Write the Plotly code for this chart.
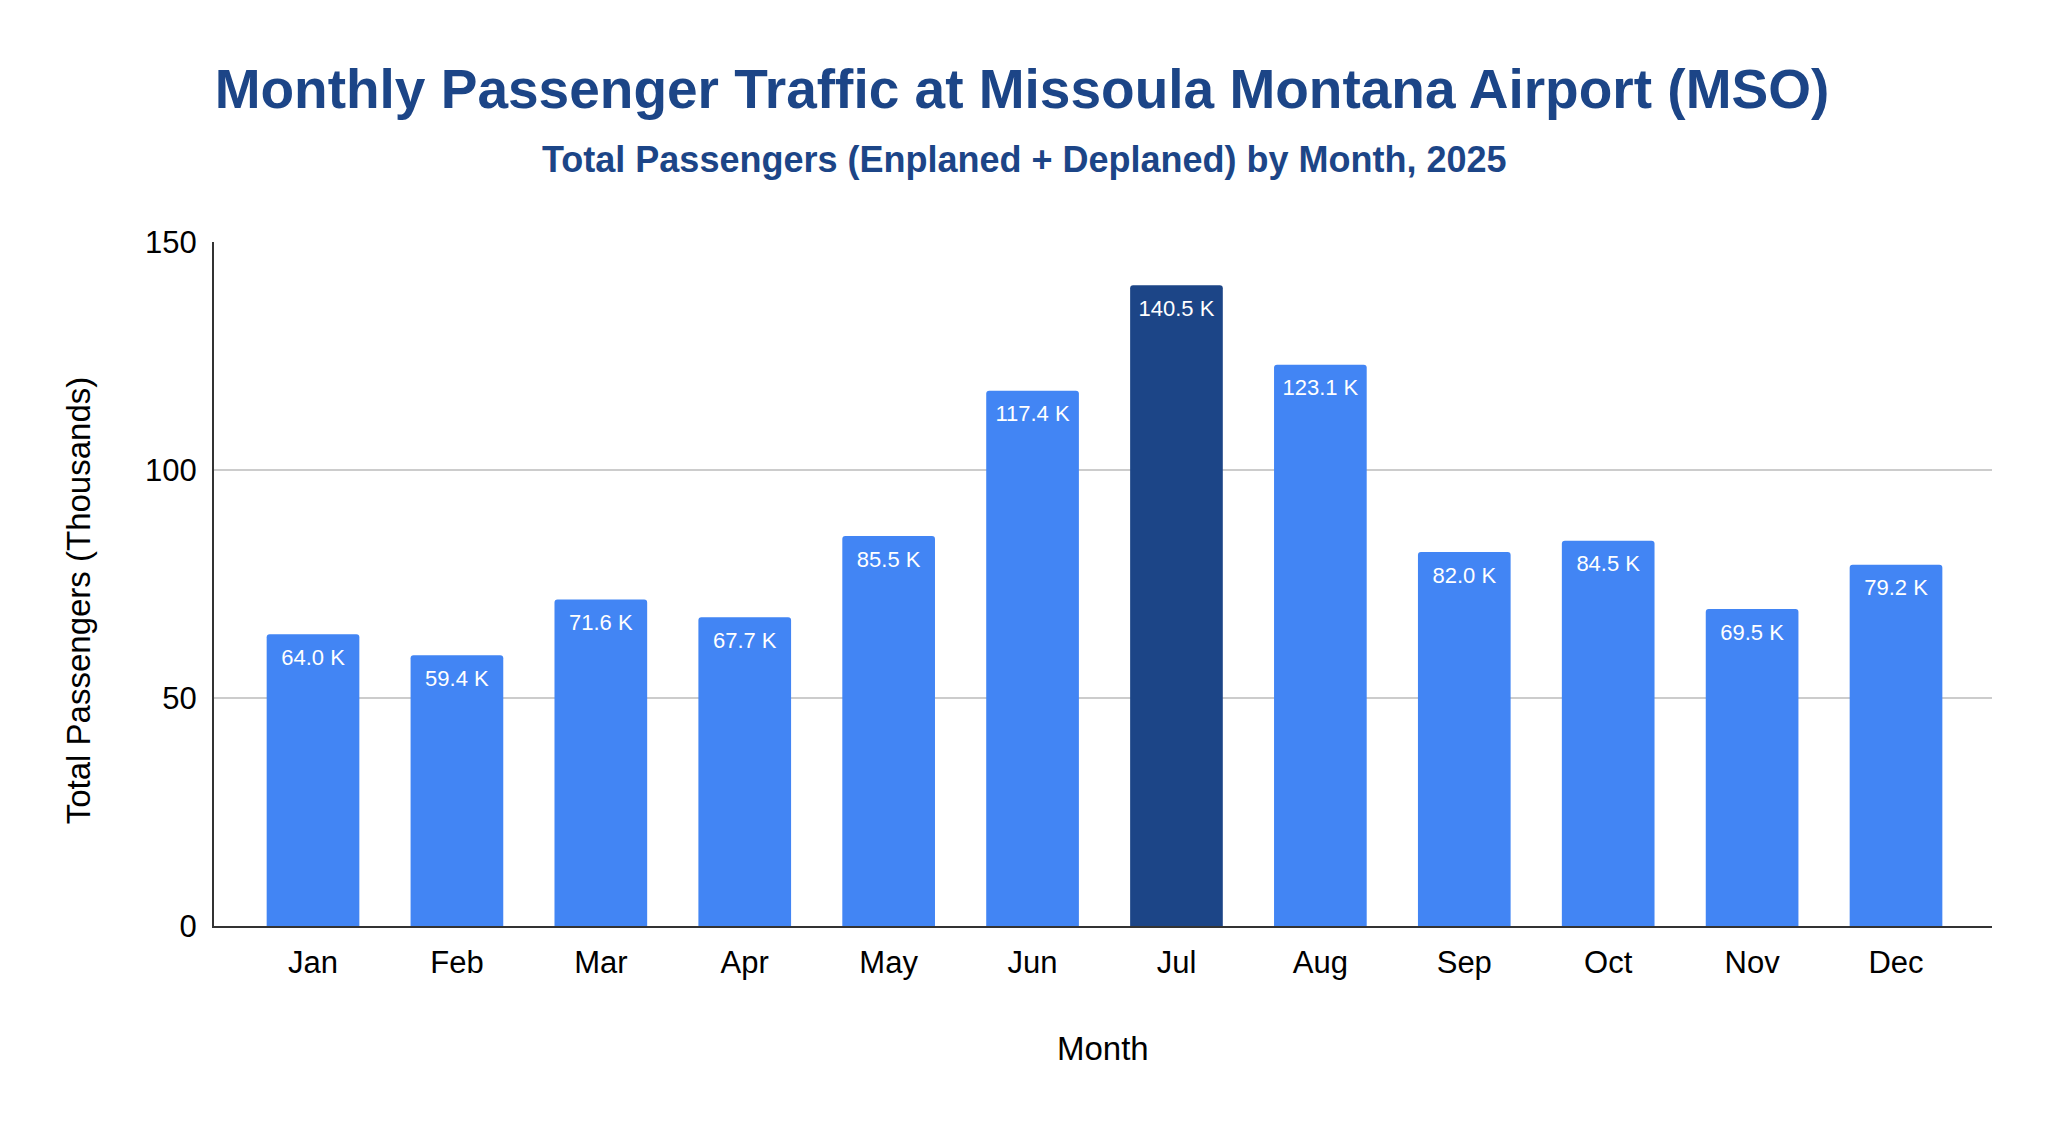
import plotly.graph_objects as go

months = ["Jan", "Feb", "Mar", "Apr", "May", "Jun", "Jul", "Aug", "Sep", "Oct", "Nov", "Dec"]
passengers_k = [64.0, 59.4, 71.6, 67.7, 85.5, 117.4, 140.5, 123.1, 82.0, 84.5, 69.5, 79.2]
labels = [f"{v:.1f} K" for v in passengers_k]
peak_month = "Jul"

LIGHT = "#4285F4"
DARK = "#1C4587"
colors = [DARK if m == peak_month else LIGHT for m in months]
FONT = "Liberation Sans, Arial, sans-serif"

fig = go.Figure()
fig.add_trace(
    go.Bar(
        x=months,
        y=passengers_k,
        marker=dict(color=colors, cornerradius=3, line=dict(width=0)),
        hoverinfo="x+y",
    )
)
fig.add_trace(
    go.Scatter(
        x=months,
        y=passengers_k,
        mode="markers+text",
        text=labels,
        textposition="bottom center",
        marker=dict(size=21, color="rgba(0,0,0,0)", line=dict(width=0)),
        textfont=dict(family=FONT, size=22, color="white"),
        hoverinfo="skip",
        cliponaxis=False,
    )
)

fig.update_layout(
    width=2048,
    height=1124,
    paper_bgcolor="white",
    plot_bgcolor="white",
    margin=dict(l=206, r=64, t=234, b=206),
    bargap=0.356,
    showlegend=False,
    font=dict(family=FONT, color="#000000"),
    title=dict(
        text="<b>Monthly Passenger Traffic at Missoula Montana Airport (MSO)</b>",
        x=0.4951,
        xref="container",
        xanchor="center",
        y=1 - 81 / 1124,
        yref="container",
        yanchor="middle",
        font=dict(family=FONT, size=55, color=DARK),
    ),
    annotations=[
        dict(
            text="<b>Total Passengers (Enplaned + Deplaned) by Month, 2025</b>",
            xref="paper", yref="paper",
            x=0.4556, y=1.1209,
            xanchor="center", yanchor="middle",
            showarrow=False,
            font=dict(family=FONT, size=36, color=DARK),
        ),
        dict(
            text="Month",
            xref="paper", yref="paper",
            x=0.5, y=-0.1798,
            xanchor="center", yanchor="middle",
            showarrow=False,
            font=dict(family=FONT, size=33, color="#000000"),
        ),
        dict(
            text="Total Passengers (Thousands)",
            xref="paper", yref="paper",
            x=-0.076, y=0.476,
            xanchor="center", yanchor="middle",
            textangle=-90,
            showarrow=False,
            font=dict(family=FONT, size=33, color="#000000"),
        ),
    ],
)

fig.update_xaxes(
    range=[-0.688, 11.667],
    showline=True,
    linecolor="#333333",
    linewidth=2,
    showgrid=False,
    ticks="",
    ticklabelstandoff=8,
    tickfont=dict(family=FONT, size=31, color="#000000"),
)

fig.update_yaxes(
    range=[0, 150],
    tickvals=[0, 50, 100, 150],
    showline=True,
    linecolor="#333333",
    linewidth=2,
    showgrid=True,
    gridcolor="#CCCCCC",
    gridwidth=1.5,
    zeroline=False,
    ticks="",
    ticklabelstandoff=9,
    tickfont=dict(family=FONT, size=31, color="#000000"),
)

fig.write_html("out.html")
